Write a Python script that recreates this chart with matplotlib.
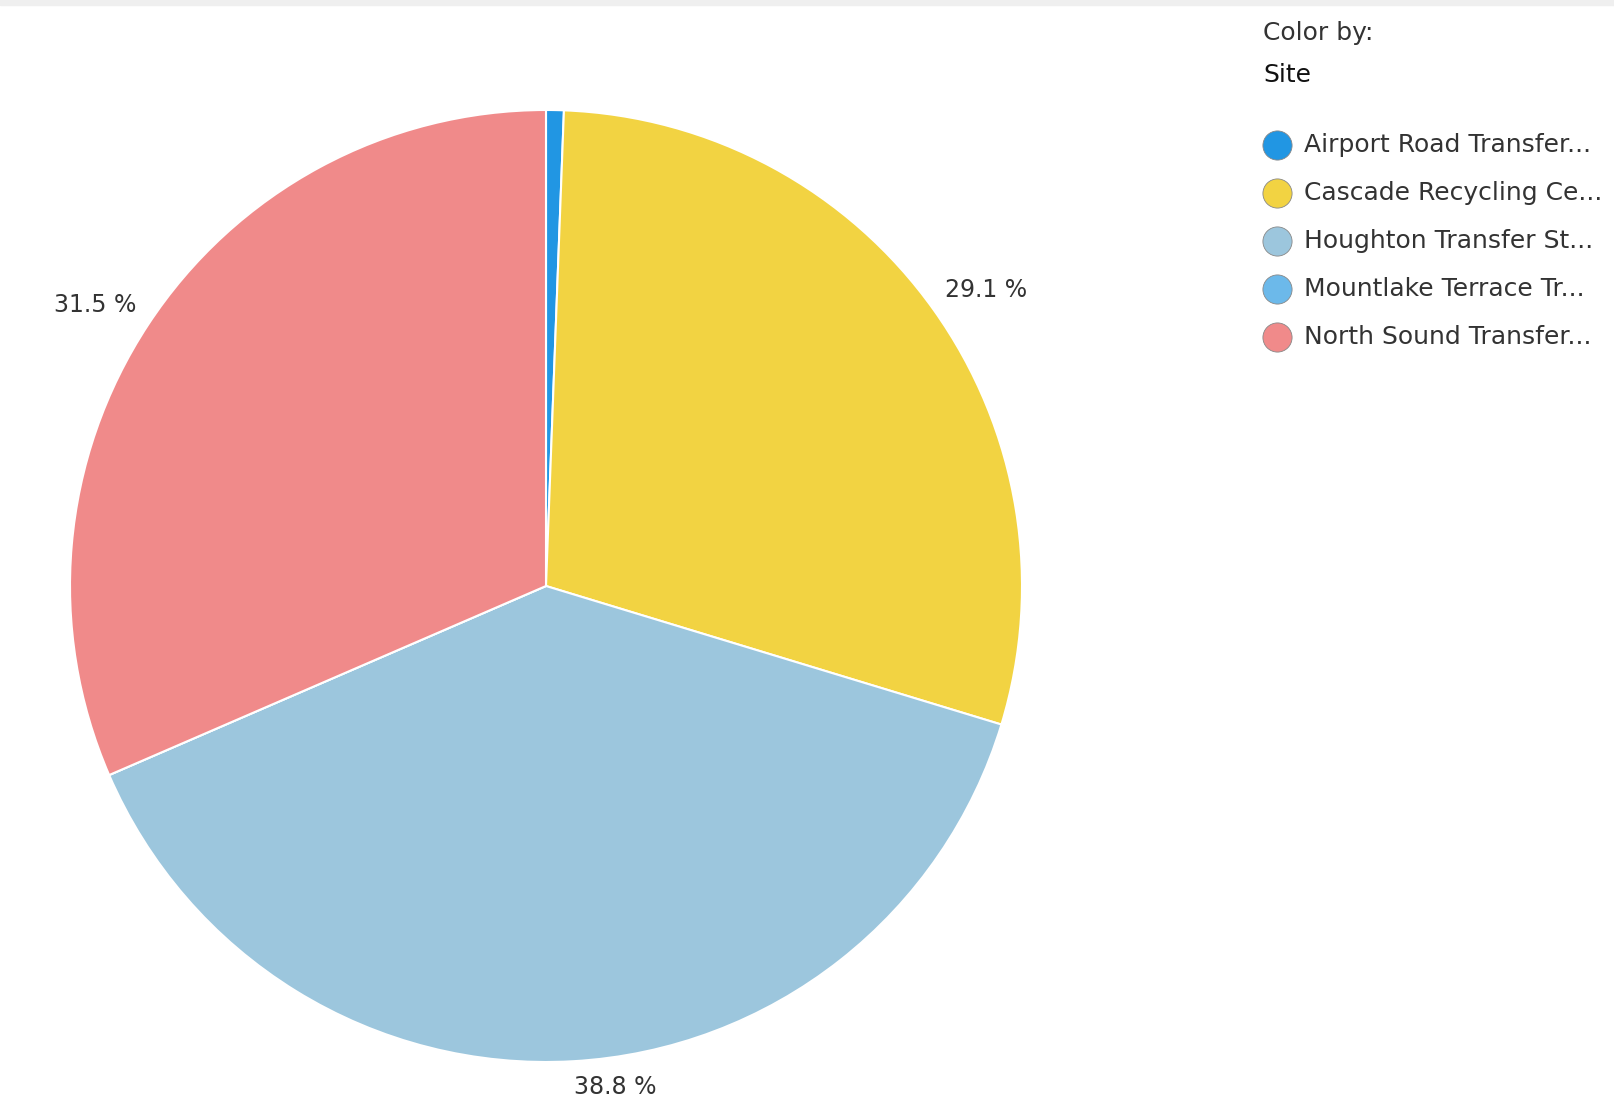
import matplotlib.pyplot as plt
from matplotlib.lines import Line2D

# site shares (%)
sites = ['Airport Road Transfer...', 'Cascade Recycling Ce...', 'Houghton Transfer St...',
         'Mountlake Terrace Tr...', 'North Sound Transfer...']
shares = [0.6, 29.1, 38.8, 0.0, 31.5]
colors = ['#2196e3', '#f2d342', '#9cc6dd', '#6cb9ea', '#f08a8a']

W, H = 1615, 1110
fig = plt.figure(figsize=(W / 100, H / 100), dpi=100)
fig.patch.set_facecolor('white')

# pie centre (546, 586) px, radius 476 px
cx, cy, r = 546, 586, 476
ax = fig.add_axes([(cx - r) / W, (H - cy - r) / H, 2 * r / W, 2 * r / H])

labels = ['%.1f %%' % v if v >= 5 else '' for v in shares]
wedges, texts = ax.pie(shares, colors=colors, labels=labels, startangle=90, counterclock=False,
                       labeldistance=1.03, radius=1,
                       wedgeprops=dict(edgecolor='white', linewidth=1.5),
                       textprops=dict(fontsize=17, color='#333333'))
for t in texts:
    t.set_clip_on(False)
    # labels sit outside the rim: above it on top half, below it on bottom half
    t.set_va('bottom' if t.get_position()[1] > 0 else 'top')
ax.set_xlim(-1, 1)
ax.set_ylim(-1, 1)
ax.set_aspect('equal')
ax.axis('off')

# grey strip along the top
fig.patches.append(plt.Rectangle((0, 1 - 5 / H), 1, 5 / H, transform=fig.transFigure,
                                 color='#efefef', zorder=0))

# legend
fig.text(1263 / W, 1 - 33 / H, 'Color by:', fontsize=18, color='#333333', va='center')
fig.text(1263 / W, 1 - 75 / H, 'Site', fontsize=18, color='#111111', va='center')
for i, (s, c) in enumerate(zip(sites, colors)):
    y = 1 - (145 + i * 48) / H
    fig.add_artist(Line2D([1277 / W], [y], marker='o', markersize=21, color=c,
                          markeredgecolor='#888888', markeredgewidth=0.6,
                          transform=fig.transFigure))
    fig.text(1304 / W, y, s, fontsize=18, color='#333333', va='center')

plt.savefig('out.png', dpi=100)
